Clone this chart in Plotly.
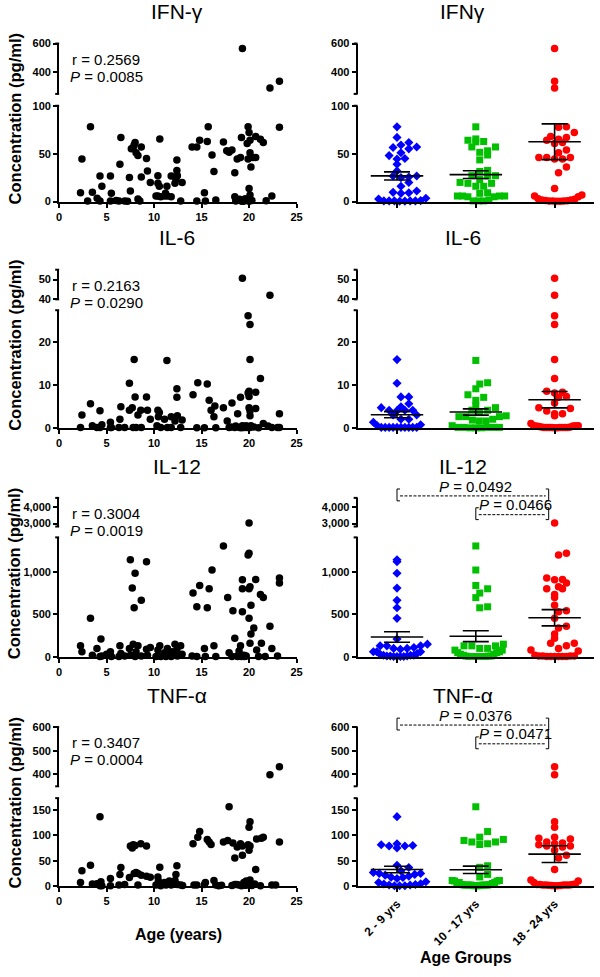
import numpy as np
import plotly.graph_objects as go

# ---------------- DATA ----------------
ifn_age = [2.25, 2.4, 3.3, 3.5, 4.0, 4.3, 4.3, 4.5, 5.4, 5.5, 5.4, 6.3, 6.4, 6.5, 6.9, 7.4, 7.5, 7.6, 7.8, 8.0,
           7.9, 8.1, 8.3, 8.3, 8.65, 8.65, 8.5, 9.2, 9.3, 9.6, 10.4, 10.4, 10.55, 10.6, 10.2, 10.4, 10.7, 11.1,
           11.2, 11.35, 11.4, 11.8, 11.8, 12.2, 12.3, 12.4, 12.4, 12.45, 12.8, 12.95, 14.0, 14.5, 14.8, 14.5,
           15.3, 15.4, 15.7, 15.6, 16.1, 16.3, 16.5, 17.3, 17.65, 17.9, 18.2, 18.5, 18.5, 18.75, 18.9, 19.1,
           19.2, 19.2, 19.5, 19.7, 19.9, 19.8, 19.9, 20.0, 20.1, 20.0, 20.1, 20.2, 20.1, 20.4, 20.7, 20.7,
           21.2, 21.5, 22.4, 23.2, 19.3, 22.2, 23.2,
           18.6, 19.0, 19.3, 19.6, 20.0, 20.3, 21.8, 3.0, 6.0, 7.2]
ifn_val = [9.2, 44.5, 78, 9.6, 3.4, 0.7, 26.7, 16, 26.7, 8.6, 0.7, 0.7, 39, 67, 0.7, 25, 11, 55, 56.5, 61.6,
           59, 51, 48, 2.7, 57, 25.7, 0.7, 45, 32, 20, 27, 19, 16, 65.4, 5.8, 5.8, 5, 5.8,
           8.6, 16, 5.8, 5, 26.7, 19, 23, 32.5, 43.5, 27, 0.7, 20, 57, 57, 64, 0.7,
           9.2, 0.7, 78, 62.7, 48.6, 31.5, 1.7, 62.3, 53, 51.4, 53.8, 30, 5.1, 44.5, 1.7, 46,
           66.8, 0.7, 0.7, 1.7, 78, 60.6, 44.5, 13.7, 6.8, 72, 51, 36, 64, 46, 68, 46,
           65, 61.6, 5.8, 77.7, 566, 290, 336,
           0.5, 2.5, 0.3, 3.0, 0.4, 1.2, 0.8, 0.5, 1.0, 0.3]

il6_age = [2.25, 2.4, 3.3, 3.5, 3.98, 4.3, 4.3, 4.5, 5.4, 5.4, 5.5, 6.4, 6.5, 6.3, 6.9, 7.4, 7.4, 7.7, 7.9, 8.0,
           7.8, 8.1, 8.3, 8.6, 8.65, 9.2, 9.3, 9.6, 10.4, 10.45, 10.55, 10.3, 10.7, 11.1, 11.35, 11.4, 11.8,
           11.8, 12.2, 12.4, 12.4, 12.45, 12.8, 12.95, 14.1, 14.6, 14.5, 15.3, 15.6, 15.8, 16.0, 16.3, 16.4,
           16.5, 17.3, 17.7, 17.9, 18.2, 18.5, 18.8, 19.0, 19.1, 19.3, 19.5, 19.7, 19.9, 20.0, 20.0, 20.0,
           20.1, 20.1, 20.1, 20.1, 20.1, 19.9, 20.7, 20.7, 21.2, 21.5, 22.4, 23.2, 23.2, 19.3, 22.2,
           18.1, 18.6, 19.2, 19.4, 19.8, 20.2, 20.5, 21.0, 22.0, 23.0]
il6_val = [0.2, 3.1, 5.7, 0.6, 0.2, 4.1, 0.2, 0.8, 1.4, 0.2, 0.2, 2.1, 5.0, 0.2, 0.2, 10.5, 4.2, 4.8, 16, 7.3,
           0.2, 0.2, 3.1, 4.2, 0.2, 7.3, 4.2, 2.1, 4.2, 2.7, 3.65, 0.6, 0.2, 2.1, 15.8, 0.2, 0.2,
           2.7, 1.7, 7.2, 9.2, 2.9, 0.2, 1.9, 7.8, 10.6, 0.1, 0.1, 10.3, 6.5, 4.2, 2.7, 5.2,
           0.1, 4.8, 1.7, 0.2, 5.9, 0.2, 3.4, 0.2, 7.2, 0.6, 0.2, 0.6, 8.2, 7.4, 8.6, 4.8,
           2.9, 4.0, 0.2, 16, 24.2, 26.2, 8.4, 4.6, 11.6, 1.1, 0.2, 3.4, 0.2, 50.7, 42.1,
           0.3, 0.5, 0.1, 0.4, 0.2, 0.6, 0.3, 0.1, 0.5, 0.2]

il12_age = [3.3, 7.5, 8.0, 9.2, 7.7, 8.65, 7.9,
            2.25, 2.4, 3.5, 3.98, 4.3, 4.4, 4.5, 5.4, 5.5, 6.3, 6.4, 6.5, 6.9, 7.4, 7.5, 7.8, 8.0, 8.1, 8.3,
            8.65, 9.2, 9.3, 9.6, 5.0,
            17.3, 16.1, 14.8, 15.8, 14.1, 17.75, 14.5, 15.6,
            10.2, 10.4, 10.45, 10.6, 10.7, 11.1, 11.25, 11.4, 11.6, 11.8, 11.9, 12.2, 12.3, 12.4, 12.45, 12.8,
            12.95, 14.0, 14.5, 15.3, 15.4, 16.3, 16.5, 17.9,
            18.3, 19.3, 19.3, 19.3, 20.0, 19.9, 20.0, 20.0, 20.1, 20.2, 20.0, 20.7, 21.2, 21.5, 23.2, 23.2,
            18.5, 18.75, 18.95, 19.1, 19.45, 19.5, 19.7, 20.1, 20.2, 20.5, 20.8, 21.3, 22.2, 22.4, 21.0, 19.2,
            18.2, 23.0, 18.8, 19.6, 21.7]
il12_val = [454, 1143, 985, 1120, 810, 666, 578,
            130, 60, 20, 100, 5, 210, 10, 60, 5, 5, 130, 40, 10, 100, 20, 150, 5, 60, 130,
            10, 90, 20, 110, 30,
            1306, 1023, 841, 802, 752, 698, 590, 578,
            5, 80, 10, 130, 5, 50, 5, 100, 20, 5, 60, 150, 30, 80, 10, 130,
            30, 10, 5, 100, 5, 130, 5, 50,
            543, 907, 802, 531, 3040, 1200, 1220, 802, 825, 608, 454, 911, 736, 698, 930, 869,
            220, 10, 70, 130, 20, 5, 10, 160, 270, 340, 80, 160, 360, 100, 5, 5,
            5, 10, 5, 10, 5]

tnf_age = [2.25, 2.4, 3.3, 3.5, 3.98, 4.3, 4.3, 4.4, 4.5, 5.4, 5.4, 6.4, 6.5, 6.3, 6.9, 7.4, 7.5, 7.7, 7.8, 7.9,
           8.0, 8.1, 8.3, 8.3, 8.6, 8.65, 9.2, 9.2, 9.6, 10.4, 10.45, 10.6, 10.2, 10.7, 11.1, 11.25, 11.4,
           11.6, 11.8, 11.9, 12.2, 12.3, 12.4, 12.45, 12.8, 14.1, 14.6, 14.8, 14.5, 15.3, 15.4, 15.6, 15.8,
           16.0, 16.3, 16.5, 17.3, 17.75, 17.9, 18.3, 18.5, 18.5, 18.75, 18.95, 19.1, 19.3, 19.3, 19.45,
           19.5, 19.7, 19.9, 20.0, 20.1, 20.0, 20.1, 20.1, 20.2, 20.7, 20.8, 21.3, 21.5, 22.4, 23.2,
           22.2, 23.2,
           18.2, 18.7, 19.2, 19.6, 19.8, 20.3, 20.6, 21.2, 22.8, 13.0, 14.2, 16.8, 17.1]
tnf_val = [7, 30, 41, 4, 4.5, 137, 0.6, 8.5, 0.6, 15, 0.6, 23, 36.5, 2, 3, 17, 79, 75, 81.5, 25,
           80, 27, 25, 2, 83.5, 21.5, 79, 19.6, 17.6, 18, 10, 37, 2, 0.6, 7, 2, 5,
           10, 2, 7, 11, 23, 40, 3, 2, 83.5, 96.5, 107.6, 2, 3, 7, 92, 87,
           82, 11, 2, 87, 90, 156.5, 85, 55.5, 3, 77, 2, 83.5, 60.7, 79, 7,
           2, 10, 81.5, 116, 127, 70.5, 79, 12, 3, 32.6, 93, 94.5, 96.5, 2, 87,
           398.6, 432,
           1, 3, 0.5, 1.5, 2, 1, 4, 0.5, 2, 1, 2, 0.5, 1.5]

panel_titles_left = ["IFN-γ", "IL-6", "IL-12", "TNF-α"]
panel_titles_right = ["IFNγ", "IL-6", "IL-12", "TNF-α"]
r_texts = ["r = 0.2569", "r = 0.2163", "r = 0.3004", "r = 0.3407"]
p_texts = ["0.0085", "0.0290", "0.0019", "0.0004"]
group_labels = ["2 - 9 yrs", "10 - 17 yrs", "18 - 24 yrs"]
group_limits = [10, 18]
x_ticks_age = [0, 5, 10, 15, 20, 25]

lower_ticks = [[0, 50, 100], [0, 10, 20], [0, 500, 1000], [0, 50, 100, 150]]
lower_ticktext = [["0", "50", "100"], ["0", "10", "20"], ["0", "500", "1,000"], ["0", "50", "100", "150"]]
upper_ticks = [[400, 600], [40, 50], [3000, 4000], [400, 500, 600]]
upper_ticktext = [["400", "600"], ["40", "50"], ["3,000", "4,000"], ["400", "500", "600"]]

# significance comparisons: (row, text, group_from, group_to)
sig_p = [(2, "0.0492", 0, 2), (2, "0.0466", 1, 2), (3, "0.0376", 0, 2), (3, "0.0471", 1, 2)]

# ---------------- LAYOUT GEOMETRY (pixels) ----------------
W, H = 600, 977
rows = [
    dict(ut=38, ub=89, lt=101, lb=198, urange=[248, 600], lrange=[0, 100]),
    dict(ut=267, ub=297, lt=308, lb=427.5, urange=[40, 55], lrange=[0, 27.5]),
    dict(ut=498, ub=527, lt=538, lb=659, urange=[2824, 4529], lrange=[0, 1407]),
    dict(ut=730, ub=790, lt=802, lb=891, urange=[350, 600], lrange=[0, 173.5]),
]
title_y = [6, 234, 466, 698]
cols = [dict(x0=57, x1=298), dict(x0=360, x1=600)]
FONT = "Arial, Liberation Sans, sans-serif"


def pxx(px):
    return px / W


def pyy(py):
    return 1 - py / H


def val2py(row, v):
    if v <= row["lrange"][1]:
        lo, hi = row["lrange"]
        return row["lb"] - (v - lo) / (hi - lo) * (row["lb"] - row["lt"])
    lo, hi = row["urange"]
    return row["ub"] - (v - lo) / (hi - lo) * (row["ub"] - row["ut"])


def axid(r, c, s):
    return r * 4 + c * 2 + s + 1


def nm(prefix, i):
    return prefix if i == 1 else f"{prefix}{i}"


fig = go.Figure()
layout = dict(width=W, height=H, margin=dict(l=0, r=0, t=0, b=0), autosize=False,
              plot_bgcolor="white", paper_bgcolor="white", showlegend=False,
              font=dict(family=FONT, color="black"))
shapes = []
annotations = []

axis_common = dict(showline=True, linecolor="black", linewidth=2, ticks="outside", ticklen=4,
                   tickwidth=2, tickcolor="black", showgrid=False, zeroline=False,
                   tickfont=dict(family=FONT, size=11, color="black", weight="bold"))

for r, row in enumerate(rows):
    for c, col in enumerate(cols):
        for s in (0, 1):
            i = axid(r, c, s)
            xd = [pxx(col["x0"]), pxx(col["x1"])]
            if s == 0:
                yd = [pyy(row["lb"]), pyy(row["lt"])]
                yr = row["lrange"]
                ytv, ytt = lower_ticks[r], lower_ticktext[r]
            else:
                yd = [pyy(row["ub"]), pyy(row["ut"])]
                yr = row["urange"]
                ytv, ytt = upper_ticks[r], upper_ticktext[r]
            if c == 0:
                xr = [0, 25]
                xtv, xtt = x_ticks_age, [str(t) for t in x_ticks_age]
            else:
                xr = [-0.5, 2.5]
                xtv, xtt = [0, 1, 2], group_labels
            xa = dict(axis_common, domain=xd, range=xr, anchor=nm("y", i), tickvals=xtv, ticktext=xtt)
            if s == 1:
                xa.update(visible=False)
            if c == 1:
                xa.update(showticklabels=(r == 3), tickangle=-45,
                          tickfont=dict(family=FONT, size=12, color="black", weight="bold"))
            ya = dict(axis_common, domain=yd, range=yr, anchor=nm("x", i), tickvals=ytv, ticktext=ytt)
            layout[nm("xaxis", i)] = xa
            layout[nm("yaxis", i)] = ya
        # break serifs at segment ends
        for py in (row["ut"], row["ub"], row["lt"]):
            shapes.append(dict(type="line", xref="paper", yref="paper",
                               x0=pxx(col["x0"] - 4), x1=pxx(col["x0"]), y0=pyy(py), y1=pyy(py),
                               line=dict(color="black", width=2)))

data_sets = [(ifn_age, ifn_val), (il6_age, il6_val), (il12_age, il12_val), (tnf_age, tnf_val)]
group_styles = [dict(symbol="diamond", color="#0000FF", size=7),
                dict(symbol="square", color="#00C000", size=7),
                dict(symbol="circle", color="#FF0000", size=7.5)]

for r, (ages, vals) in enumerate(data_sets):
    row = rows[r]
    ages = np.array(ages, float)
    vals = np.array(vals, float)
    # ---- left scatter ----
    for s in (0, 1):
        mask = vals <= row["lrange"][1] if s == 0 else vals > row["lrange"][1]
        i = axid(r, 0, s)
        fig.add_trace(go.Scatter(x=ages[mask], y=vals[mask], mode="markers", cliponaxis=False,
                                 marker=dict(color="black", size=7.5, line=dict(width=0)),
                                 xaxis=nm("x", i), yaxis=nm("y", i)))
    # ---- right grouped dot plot ----
    gidx = np.digitize(ages, group_limits)
    for g in range(3):
        gv = np.sort(vals[gidx == g])
        pys = np.array([val2py(row, v) for v in gv])
        binh = 7.0
        bins = {}
        for k, py in enumerate(pys):
            seg = 0 if gv[k] <= row["lrange"][1] else 1
            base = row["lb"] if seg == 0 else row["ub"]
            b = (seg, int((base - py) // binh))
            bins.setdefault(b, []).append(k)
        offs = np.zeros(len(gv))
        for b, ks in bins.items():
            n = len(ks)
            if n == 1:
                continue
            sp = min(8.0, 48.0 / (n - 1))
            for j, k in enumerate(ks):
                m = (j + 1) // 2
                sign = 1 if j % 2 == 1 else -1
                offs[k] = sign * m * sp
            if n % 2 == 0:
                for k in ks:
                    offs[k] += sp / 2
        xs = g + offs / 80.0
        st = group_styles[g]
        for s in (0, 1):
            mask = gv <= row["lrange"][1] if s == 0 else gv > row["lrange"][1]
            i = axid(r, 1, s)
            fig.add_trace(go.Scatter(x=xs[mask], y=gv[mask], mode="markers", cliponaxis=False,
                                     marker=dict(color=st["color"], symbol=st["symbol"], size=st["size"],
                                                 line=dict(width=0)),
                                     xaxis=nm("x", i), yaxis=nm("y", i)))
        # mean +/- SEM
        mean = gv.mean()
        sem = gv.std(ddof=1) / np.sqrt(len(gv))
        i = axid(r, 1, 0)
        lx, ly = [], []
        lx += [g - 0.333, g + 0.333, None]; ly += [mean, mean, None]
        lx += [g, g, None]; ly += [mean - sem, mean + sem, None]
        lx += [g - 0.165, g + 0.165, None]; ly += [mean + sem, mean + sem, None]
        lx += [g - 0.165, g + 0.165]; ly += [mean - sem, mean - sem]
        fig.add_trace(go.Scatter(x=lx, y=ly, mode="lines", cliponaxis=False,
                                 line=dict(color="black", width=1.6),
                                 xaxis=nm("x", i), yaxis=nm("y", i)))

    annotations.append(dict(text=panel_titles_left[r], x=pxx(177), y=pyy(title_y[r]), xref="paper",
                            yref="paper", showarrow=False, font=dict(size=21), xanchor="center",
                            yanchor="middle"))
    annotations.append(dict(text=panel_titles_right[r], x=pxx(467), y=pyy(title_y[r]), xref="paper",
                            yref="paper", showarrow=False, font=dict(size=21), xanchor="center",
                            yanchor="middle"))
    annotations.append(dict(text=r_texts[r], x=pxx(68), y=pyy(row["ut"] + 16), xref="paper", yref="paper",
                            showarrow=False, font=dict(size=15), xanchor="left", yanchor="middle"))
    annotations.append(dict(text="<i>P</i> = " + p_texts[r], x=pxx(66), y=pyy(row["ut"] + 33),
                            xref="paper", yref="paper", showarrow=False, font=dict(size=15),
                            xanchor="left", yanchor="middle"))
    annotations.append(dict(text="<b>Concentration (pg/ml)</b>", x=pxx(12),
                            y=pyy((row["ut"] + row["lb"]) / 2 - 4), xref="paper", yref="paper",
                            showarrow=False, textangle=-90, font=dict(size=16.5),
                            xanchor="center", yanchor="middle"))

# significance brackets
for k, (r, ptxt, g0, g1) in enumerate(sig_p):
    row = rows[r]
    lvl = 0 if g0 == 0 else 1
    top = (row["ut"] - 9) if lvl == 0 else (row["ut"] + 10)
    bot = top + 12
    xl = cols[1]["x0"] + 40 + g0 * 80
    xr = cols[1]["x0"] + 40 + g1 * 80 - 6
    for xx, d in ((xl, 3), (xr, -3)):
        shapes.append(dict(type="line", xref="paper", yref="paper", x0=pxx(xx), x1=pxx(xx),
                           y0=pyy(top), y1=pyy(bot), line=dict(color="black", width=1)))
        for yy in (top, bot):
            shapes.append(dict(type="line", xref="paper", yref="paper", x0=pxx(xx), x1=pxx(xx + d),
                               y0=pyy(yy), y1=pyy(yy), line=dict(color="black", width=1)))
    shapes.append(dict(type="line", xref="paper", yref="paper", x0=pxx(xl + 3), x1=pxx(xr - 3),
                       y0=pyy(top + 7), y1=pyy(top + 7),
                       line=dict(color="black", width=1, dash="3px,1.5px")))
    annotations.append(dict(text="<i>P</i> = " + ptxt, x=pxx((xl + xr) / 2 + 3), y=pyy(top - 3),
                            xref="paper", yref="paper", showarrow=False, font=dict(size=15),
                            xanchor="center", yanchor="middle"))

annotations.append(dict(text="<b>Age (years)</b>", x=pxx(178), y=pyy(940), xref="paper", yref="paper",
                        showarrow=False, font=dict(size=16), xanchor="center", yanchor="middle"))
annotations.append(dict(text="<b>Age Groups</b>", x=pxx(470), y=pyy(963), xref="paper", yref="paper",
                        showarrow=False, font=dict(size=16), xanchor="center", yanchor="middle"))

layout["shapes"] = shapes
layout["annotations"] = annotations
fig.update_layout(**layout)
fig.write_html("out.html", config={"displayModeBar": False},
               post_script="document.body.style.margin='0';document.body.style.overflow='hidden';")
